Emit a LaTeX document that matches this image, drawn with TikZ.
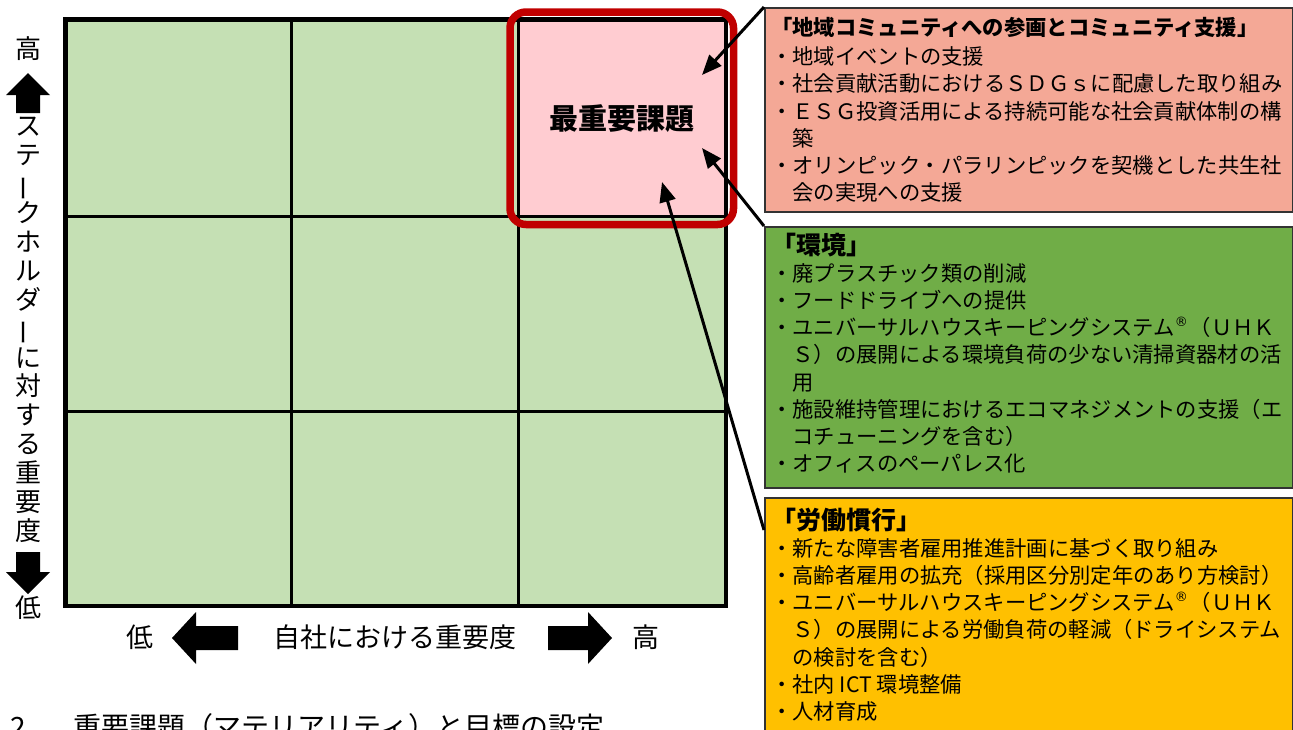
\documentclass[tikz,border=0pt]{standalone}
\usepackage{fontspec}
\usepackage{graphicx}
\setmainfont{Noto Sans CJK JP}
\newfontfamily\regfont{DejaVu Sans}
\usetikzlibrary{arrows.meta,fit}

\definecolor{cellgreen}{HTML}{C5E0B4}
\definecolor{cellpink}{HTML}{FFCCD1}
\definecolor{focusred}{HTML}{C00000}
\definecolor{commucolor}{HTML}{F4A896}
\definecolor{envcolor}{HTML}{70AD47}
\definecolor{laborcolor}{HTML}{FFC000}

\newcommand{\vbar}{\rotatebox[origin=c]{90}{ー}}
\newcommand{\regmark}{\raisebox{0.42em}{\regfont\fontsize{13}{13}\selectfont ®}\hspace{2pt}}

\begin{document}
\begin{tikzpicture}%
	[x=1pt, y=-1pt,
	cell/.style={draw=black, line width=2.5pt, fill=cellgreen, anchor=north west, inner sep=0pt},
	frame/.style={draw=black, line width=3.5pt},
	focus/.style={draw=focusred, line width=7.5pt, rounded corners=16pt, inner sep=7pt},
	issuebox/.style={draw=black!80, line width=1.5pt, minimum width=528, anchor=north west, inner sep=0pt},
	boxtext/.style={anchor=north west, inner sep=0pt, align=left, font=\fontsize{21.3}{27.2}\selectfont},
	axistext/.style={inner sep=0pt, font=\fontsize{27}{27}\selectfont},
	blockarrow/.style={fill=black},
	pointer/.style={draw=black, line width=3pt, -{Triangle[length=20pt,width=16pt]}}]
%
\useasboundingbox (0,0) rectangle (1293,729);
%
%% Drawing the grid cells
%%
\node[cell, minimum width=225, minimum height=196] (c11) at (65,19) {};
\node[cell, minimum width=227, minimum height=196] (c12) at (290,19) {};
\node[cell, fill=cellpink, minimum width=207, minimum height=196] (c13) at (517,19) {\fontsize{29}{29}\selectfont\bfseries 最重要課題};
\node[cell, minimum width=225, minimum height=195] (c21) at (65,215) {};
\node[cell, minimum width=227, minimum height=195] (c22) at (290,215) {};
\node[cell, minimum width=207, minimum height=195] (c23) at (517,215) {};
\node[cell, minimum width=225, minimum height=194] (c31) at (65,410) {};
\node[cell, minimum width=227, minimum height=194] (c32) at (290,410) {};
\node[cell, minimum width=207, minimum height=194] (c33) at (517,410) {};
\draw[frame] (c11.north west) rectangle (c33.south east);
\node[focus, fit=(c13)] (focus) {};
%%
%%
%% Drawing the axis labels
%%
\node[font=\fontsize{26}{26}\selectfont, inner sep=0pt] (high-y) at (28,49) {高};
\fill[blockarrow] (28,73) -- (50,95) -- (40,95) -- (40,113) -- (16,113) -- (16,95) -- (6,95) -- cycle;
\node[font=\fontsize{26}{28.9}\selectfont, inner sep=0pt, align=center] (stake-label) at (28,330) {ス\\テ\\\vbar\\ク\\ホ\\ル\\ダ\\\vbar\\に\\対\\す\\る\\重\\要\\度};
\fill[blockarrow] (16,552) -- (40,552) -- (40,572) -- (50,572) -- (28,594) -- (6,572) -- (16,572) -- cycle;
\node[font=\fontsize{26}{26}\selectfont, inner sep=0pt] (low-y) at (28,608) {低};
%%
\node[axistext] (low-x) at (140,637) {低};
\fill[blockarrow] (172,638) -- (196,612) -- (196,626) -- (238,626) -- (238,650) -- (196,650) -- (196,664) -- cycle;
\node[axistext] (own-label) at (395,637) {自社における重要度};
\fill[blockarrow] (548,626) -- (588,626) -- (588,612) -- (612,638) -- (588,664) -- (588,650) -- (548,650) -- cycle;
\node[axistext] (high-x) at (646,637) {高};
%%
\node[anchor=base west, inner sep=0pt, font=\fontsize{28}{28}\selectfont] (section-title) at (10,737) {2．\hspace{20pt}重要課題（マテリアリティ）と目標の設定};
%%
%%
%% Drawing the issue boxes
%%
\node[issuebox, fill=commucolor, minimum height=204] (commu) at (764,7) {};
\node[boxtext] (commu-text) at (771,17) {{\bfseries 「地域コミュニティへの参画とコミュニティ支援」}\\[2pt]
・地域イベントの支援\\
・社会貢献活動におけるＳＤＧｓに配慮した取り組み\\
・ＥＳＧ投資活用による持続可能な社会貢献体制の構\\
　築\\
・オリンピック・パラリンピックを契機とした共生社\\
　会の実現への支援};
%%
\node[issuebox, fill=envcolor, minimum height=261] (env) at (764,226) {};
\node[boxtext] (env-text) at (771,232.5) {{\fontsize{25}{27}\selectfont\bfseries 「環境」}\\
・廃プラスチック類の削減\\
・フードドライブへの提供\\
・ユニバーサルハウスキーピングシステム\regmark（ＵＨＫ\\
　Ｓ）の展開による環境負荷の少ない清掃資器材の活\\
　用\\
・施設維持管理におけるエコマネジメントの支援（エ\\
　コチューニングを含む）\\
・オフィスのペーパレス化};
%%
\node[issuebox, fill=laborcolor, minimum height=250] (labor) at (764,497) {};
\node[boxtext] (labor-text) at (771,507.5) {{\fontsize{25}{27}\selectfont\bfseries 「労働慣行」}\\
・新たな障害者雇用推進計画に基づく取り組み\\
・高齢者雇用の拡充（採用区分別定年のあり方検討）\\
・ユニバーサルハウスキーピングシステム\regmark（ＵＨＫ\\
　Ｓ）の展開による労働負荷の軽減（ドライシステム\\
　の検討を含む）\\
・社内 ICT 環境整備\\
・人材育成};
%%
%%
%% Drawing the pointers
%%
\coordinate (commu-tip) at (702,75);
\coordinate (env-tip) at (702,148);
\coordinate (labor-tip) at (662,182);
\draw[pointer] (commu.north west) -- (commu-tip);
\draw[pointer] (env.north west) -- (env-tip);
\draw[pointer] ([yshift=-33pt]labor.north west) -- (labor-tip);
%%
%%
\end{tikzpicture}
\end{document}
